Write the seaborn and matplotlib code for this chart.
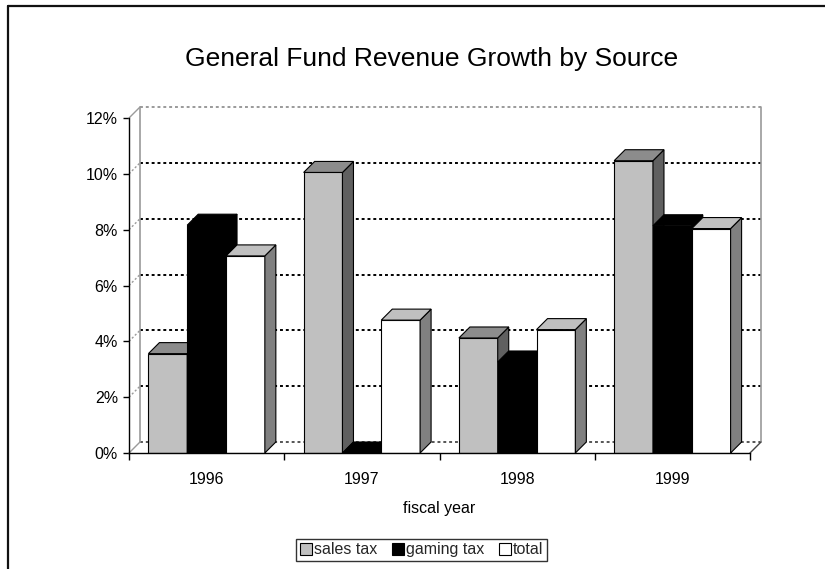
import matplotlib
matplotlib.use("Agg")
import matplotlib.pyplot as plt
from matplotlib.patches import Polygon, Patch
from matplotlib.lines import Line2D
import seaborn as sns
import pandas as pd

# Revenue growth (percent) by fiscal year and source
years = ["1996", "1997", "1998", "1999"]
sources = ["sales tax", "gaming tax", "total"]
sales_tax = [3.56, 10.05, 4.12, 10.47]
gaming_tax = [8.16, 0.0, 3.26, 8.14]
total = [7.06, 4.76, 4.42, 8.04]
y_ticks = [0, 2, 4, 6, 8, 10, 12]

front_colors = {"sales tax": "#C0C0C0", "gaming tax": "#000000", "total": "#FFFFFF"}
top_colors = {"sales tax": "#8C8C8C", "gaming tax": "#000000", "total": "#C0C0C0"}
side_colors = {"sales tax": "#606060", "gaming tax": "#000000", "total": "#808080"}

df = pd.DataFrame({
    "year": years * 3,
    "source": [s for s in sources for _ in years],
    "growth": sales_tax + gaming_tax + total,
})

sns.set_style("white")
plt.rcParams["font.family"] = ["Liberation Sans", "DejaVu Sans"]

fig = plt.figure(figsize=(8.25, 5.69), dpi=100)
W, H = 825, 569
ax = fig.add_axes([129 / W, (H - 453) / H, 621 / W, 335 / H])

sns.barplot(data=df, x="year", y="growth", hue="source", hue_order=sources,
            order=years, palette=front_colors, width=0.75, gap=0,
            edgecolor="black", linewidth=0.8, ax=ax, legend=False)

ax.set_xlim(-0.5, 3.5)
ax.set_ylim(0, 12)

# depth of the pseudo-3D walls and bars, 11 px converted to data units
bbox = ax.get_window_extent()
ddx = 11 * 4 / bbox.width
ddy = 11 * 12 / bbox.height

grey = "#9A9A9A"
# back wall with gridlines
x0, x1 = -0.5 + ddx, 3.5 + ddx
for v in y_ticks[1:-1]:
    ax.plot([x0, x1], [v + ddy, v + ddy], color="black", lw=1.4,
            linestyle=(0, (1.5, 1.5)), zorder=1, clip_on=False)
    ax.plot([-0.5, x0], [v, v + ddy], color=grey, lw=1.0,
            linestyle=(0, (1.5, 1.5)), zorder=1, clip_on=False)
ax.plot([x0, x1], [12 + ddy, 12 + ddy], color=grey, lw=1.4,
        linestyle=(0, (1.5, 1.5)), zorder=1, clip_on=False)
ax.plot([x0, x1], [ddy, ddy], color="#555555", lw=1.4,
        linestyle=(0, (1.5, 1.5)), zorder=1, clip_on=False)
ax.plot([x0, x0], [ddy, 12 + ddy], color=grey, lw=1.2, zorder=1, clip_on=False)
ax.plot([x1, x1], [ddy, 12 + ddy], color=grey, lw=1.2, zorder=1, clip_on=False)
ax.plot([-0.5, x0], [12, 12 + ddy], color=grey, lw=1.0, zorder=1, clip_on=False)
ax.plot([-0.5, x0], [0, ddy], color=grey, lw=1.0, zorder=1, clip_on=False)
ax.plot([3.5, x1], [0, ddy], color="#444444", lw=1.0, zorder=1, clip_on=False)

# give each bar a top and a side face, drawn left to right
bars = sorted(ax.patches, key=lambda p: p.get_x())
for i, bar in enumerate(bars):
    src = None
    fc = bar.get_facecolor()
    for s in sources:
        if matplotlib.colors.to_rgba(front_colors[s]) == tuple(fc):
            src = s
    bx, bw, bh = bar.get_x(), bar.get_width(), bar.get_height()
    z = 3 + i
    bar.set_zorder(z)
    top = Polygon([(bx, bh), (bx + bw, bh), (bx + bw + ddx, bh + ddy), (bx + ddx, bh + ddy)],
                  closed=True, facecolor=top_colors[src], edgecolor="black",
                  lw=0.8, zorder=z, clip_on=False)
    side = Polygon([(bx + bw, 0), (bx + bw + ddx, ddy), (bx + bw + ddx, bh + ddy), (bx + bw, bh)],
                   closed=True, facecolor=side_colors[src], edgecolor="black",
                   lw=0.8, zorder=z, clip_on=False)
    ax.add_patch(side)
    ax.add_patch(top)

# axes styling
for s in ["top", "right"]:
    ax.spines[s].set_visible(False)
for s in ["left", "bottom"]:
    ax.spines[s].set_color("black")
    ax.spines[s].set_linewidth(1.0)
    ax.spines[s].set_zorder(50)

ax.set_yticks(y_ticks)
ax.set_yticklabels([f"{v}%" for v in y_ticks])
ax.tick_params(axis="y", direction="out", length=4, width=1, pad=4,
               labelsize=11.5, colors="black", left=True)

ax.set_xticks([-0.5, 0.5, 1.5, 2.5, 3.5])
ax.set_xticklabels([])
ax.set_xticks(range(len(years)), minor=True)
ax.set_xticklabels(years, minor=True)
ax.tick_params(axis="x", which="major", direction="out", length=5, width=1,
               bottom=True, colors="black")
ax.tick_params(axis="x", which="minor", length=0, pad=14, labelsize=11.5,
               labelcolor="black")
ax.set_xlabel("fiscal year", fontsize=11.5, labelpad=10, color="black")
ax.set_ylabel("")
ax.grid(False)

fig.text(0.523, 0.897, "General Fund Revenue Growth by Source",
         ha="center", va="center", fontsize=19, color="black")

handles = [Patch(facecolor=front_colors[s], edgecolor="black", lw=0.8) for s in sources]
leg = fig.legend(handles, sources, loc="center", bbox_to_anchor=(0.511, 0.0334),
                 ncol=3, fontsize=11.5, frameon=True, fancybox=False,
                 handlelength=0.75, handleheight=0.75, handletextpad=0.15,
                 columnspacing=0.9, borderpad=0.25, borderaxespad=0)
leg.get_frame().set_edgecolor("black")
leg.get_frame().set_linewidth(1.0)

# outer frame of the chart area
fig.add_artist(Line2D([8 / W, 1.0], [1 - 6 / H, 1 - 6 / H], color="#111111", lw=1.6,
                      transform=fig.transFigure))
fig.add_artist(Line2D([8 / W, 8 / W], [0, 1 - 6 / H], color="#111111", lw=1.6,
                      transform=fig.transFigure))

fig.savefig("out.png", dpi=100)
